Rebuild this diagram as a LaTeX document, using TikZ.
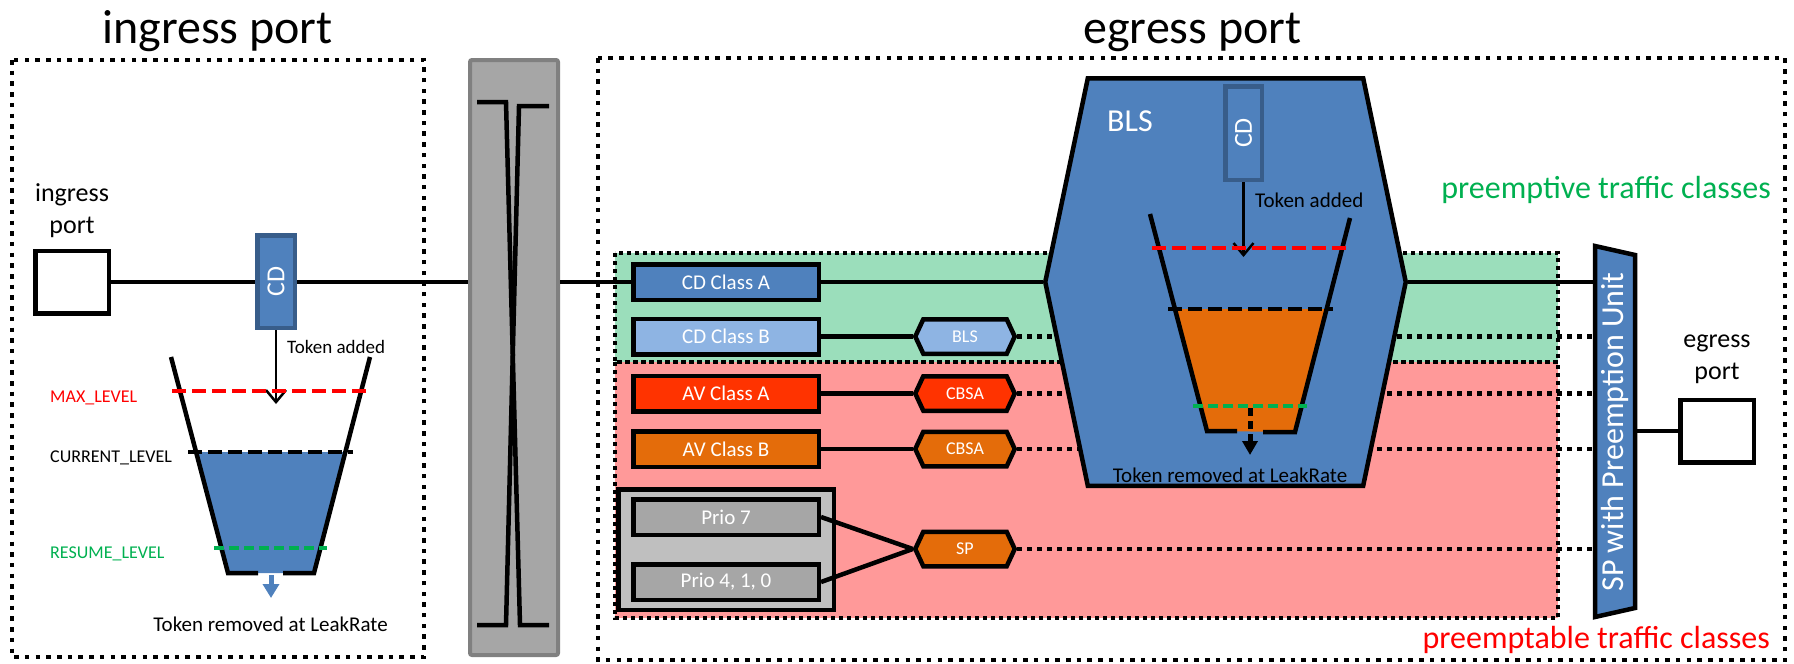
\documentclass[tikz,border=0pt]{standalone}
\usepackage{fontspec}
\setmainfont{Carlito}
\usetikzlibrary{shapes.symbols,arrows.meta}
\definecolor{cdblue}{HTML}{4F81BD}
\definecolor{cdborder}{HTML}{385D8A}
\definecolor{lblue}{HTML}{8EB4E3}
\definecolor{avred}{HTML}{FF3300}
\definecolor{avorange}{HTML}{E46C0A}
\definecolor{greenreg}{RGB}{155,222,187}
\definecolor{redreg}{RGB}{255,153,153}
\definecolor{swgray}{HTML}{A6A6A6}
\definecolor{swborder}{HTML}{808080}
\definecolor{groupgray}{HTML}{BFBFBF}
\definecolor{txtgreen}{HTML}{00B050}
\definecolor{txtred}{HTML}{FF0000}
\newcommand{\fsz}[1]{\fontsize{#1}{#1}\selectfont}
\begin{document}
\begin{tikzpicture}[x=1pt,y=-1pt,
  outerbox/.style={line width=4.5pt, dash pattern=on 4.5pt off 6.2pt},
  regbox/.style={line width=4.5pt, dash pattern=on 4pt off 4pt},
  conn/.style={line width=4.5pt},
  dotconn/.style={line width=4.5pt, dash pattern=on 4.5pt off 5.5pt},
  classbox/.style={draw, line width=4.5pt, minimum width=185.5pt, minimum height=35.5pt, inner sep=0pt, text=white, font=\fsz{21}},
  hexbox/.style={signal, signal to=west and east, signal pointer angle=130, draw, line width=4.5pt, minimum width=99.5pt, minimum height=34.5pt, inner sep=0pt, text=white, font=\fsz{18}},
  portbox/.style={draw, line width=4.5pt, fill=white, minimum width=73.5pt, minimum height=62.5pt},
  cdbox/.style={draw=cdborder, fill=cdblue, line width=4.5pt, inner sep=0pt, text=white, font=\fsz{26}},
  lbl/.style={inner sep=0pt, font=\fsz{21}},
  lvl/.style={inner sep=0pt, anchor=base west, font=\fsz{18}},
  wall/.style={line width=4.5pt},
  lvline/.style={line width=4.5pt, dash pattern=on 14pt off 6pt},
  tokarrow/.style={line width=2.5pt, -{Straight Barb[length=12pt,width=20pt]}},
]
\useasboundingbox (0,0) rectangle (1794,664);

% titles
\node[anchor=base, font=\fsz{48}] (ttlin) at (217.5,43) {ingress port};
\node[anchor=base, font=\fsz{48}] (ttleg) at (1192.5,43) {egress port};

% outer dotted boxes
\draw[outerbox] (12,60) rectangle (424,657);
\draw[outerbox] (598,58) rectangle (1785,660);

% traffic class regions
\fill[greenreg] (615,253) rectangle (1558,362);
\fill[redreg] (615,362) rectangle (1558,618);
\draw[regbox] (615,253) rectangle (1558,362);
\draw[regbox] (615,362) rectangle (1558,618);

% switch fabric
\node[draw=swborder, fill=swgray, line width=4pt, rounded corners=2pt, minimum width=88pt, minimum height=595pt] (sw) at (514,357.5) {};
\draw[line width=4.5pt] (477,102) -- (506,102) -- (520,625) -- (549,625);
\draw[line width=4.5pt] (549,106) -- (519,106) -- (506,625) -- (477,625);

% ingress
\node[portbox] (insq) at (72,282) {};
\node[align=center, inner sep=0pt, font=\fontsize{26}{32}\selectfont] (inlbl) at (72,211) {ingress\\port};
\draw[conn] (insq.east) -- (insq.east -| sw.west);
\node[cdbox, rotate=90, minimum width=92.5pt, minimum height=37.5pt] (incd) at (276,281.5) {CD};
\coordinate (inarr) at (276,404);
\draw[tokarrow] (incd.west) -- (inarr);
\fill[cdblue] (196,452) -- (345,452) -- (314,573) -- (228,573) -- cycle;
\draw[wall] (171,357) -- (228,573) -- (258,573);
\draw[wall] (370,357) -- (314,573) -- (283,573);
\draw[lvline, txtred] (172,391) -- (371,391);
\draw[lvline] (188,452) -- (353,452);
\draw[txtgreen, line width=4.5pt, dash pattern=on 10pt off 5pt] (214,548) -- (327,548);
\draw[cdblue, line width=5pt, -{Triangle[length=14pt,width=16pt]}] (271,575) -- (271,598);
\node[lvl, text=txtred] (maxl) at (50,402) {MAX\_LEVEL};
\node[lvl] (curl) at (50,462) {CURRENT\_LEVEL};
\node[lvl, text=txtgreen] (resl) at (50,558) {RESUME\_LEVEL};
\node[lbl, anchor=west, font=\fsz{19}] (intok) at (287,347) {Token added};
\node[lbl] (inrem) at (270.5,624) {Token removed at LeakRate};

% egress traffic classes
\node[classbox, fill=cdblue] (cdA) at (726,282) {CD Class A};
\node[classbox, fill=lblue] (cdB) at (726,336.5) {CD Class B};
\node[classbox, fill=avred] (avA) at (726,393.5) {AV Class A};
\node[classbox, fill=avorange] (avB) at (726,449) {AV Class B};
\node[draw, line width=4.5pt, fill=groupgray, minimum width=215.5pt, minimum height=120.5pt] (grp) at (726,549.5) {};
\node[classbox, fill=swgray] (p7) at (726,517) {Prio 7};
\node[classbox, fill=swgray] (p410) at (726,582) {Prio 4, 1, 0};
\draw[conn] (sw.east |- cdA.west) -- (cdA.west);

% shapers
\node[hexbox, fill=lblue] (hB) at (965,336.5) {BLS};
\node[hexbox, fill=avred] (hA1) at (965,393.5) {CBSA};
\node[hexbox, fill=avorange] (hA2) at (965,449) {CBSA};
\node[hexbox, fill=avorange] (hSP) at (965,549) {SP};
\draw[conn] (cdB.east) -- (hB.west);
\draw[conn] (avA.east) -- (hA1.west);
\draw[conn] (avB.east) -- (hA2.west);
\draw[conn] (p7.east) -- (hSP.west);
\draw[conn] (p410.east) -- (hSP.west);

\coordinate (spuL) at (1595,432);
\coordinate (spuR) at (1635,432);
\draw[dotconn] (hB.east) -- (hB.east -| spuL);
\draw[dotconn] (hA1.east) -- (hA1.east -| spuL);
\draw[dotconn] (hA2.east) -- (hA2.east -| spuL);
\draw[dotconn] (hSP.east) -- (hSP.east -| spuL);

% big BLS
\node[signal, signal to=west and east, signal pointer angle=156.4, draw, line width=4.5pt, fill=cdblue, minimum width=360.5pt, minimum height=407.5pt, inner sep=0pt] (bighex) at (1225.5,282) {};
\draw[conn] (cdA.east) -- (bighex.west);
\draw[conn] (bighex.east) -- (bighex.east -| spuL);

\node[cdbox, rotate=90, minimum width=93.5pt, minimum height=36.5pt] (egcd) at (1243.5,133) {CD};
\coordinate (egarr) at (1243.5,257);
\draw[tokarrow] (egcd.west) -- (egarr);
\fill[avorange] (1175,309) -- (1327,309) -- (1295,432) -- (1207,431) -- cycle;
\draw[wall] (1150,214) -- (1207,431) -- (1237,431);
\draw[wall] (1350,218) -- (1295,432) -- (1263,432);
\draw[lvline, txtred] (1152,248) -- (1350,248);
\draw[lvline] (1168,309) -- (1333,309);
\draw[txtgreen, line width=4.5pt, dash pattern=on 10pt off 5pt] (1193,406) -- (1307,406);
\draw[line width=5pt, dash pattern=on 8pt off 5pt, -{Triangle[length=14pt,width=15pt]}] (1250,408) -- (1250,455);
\node[font=\fsz{32}, text=white, inner sep=0pt] (blst) at (1130,121) {BLS};
\node[lbl, anchor=west] (egtok) at (1255,200) {Token added};
\node[lbl] (egrem) at (1230,475) {Token removed at LeakRate};

% SP with preemption unit
\draw[line width=4.5pt, fill=cdblue] (1595,246) -- (1635,255) -- (1635,608) -- (1595,617) -- cycle;
\node[rotate=90, text=white, font=\fsz{32}, inner sep=0pt] (spu) at (1615,432) {SP with Preemption Unit};
\node[portbox] (egsq) at (1717,431) {};
\node[align=center, inner sep=0pt, font=\fontsize{26}{32}\selectfont] (eglbl) at (1717,359) {egress\\port};
\draw[conn] (egsq.west -| spuR) -- (egsq.west);

\node[anchor=base east, text=txtgreen, font=\fsz{32}, inner sep=0pt] (pretxt) at (1771,198) {preemptive traffic classes};
\node[anchor=base east, text=txtred, font=\fsz{32}, inner sep=0pt] (pabtxt) at (1770,648) {preemptable traffic classes};
\end{tikzpicture}
\end{document}
